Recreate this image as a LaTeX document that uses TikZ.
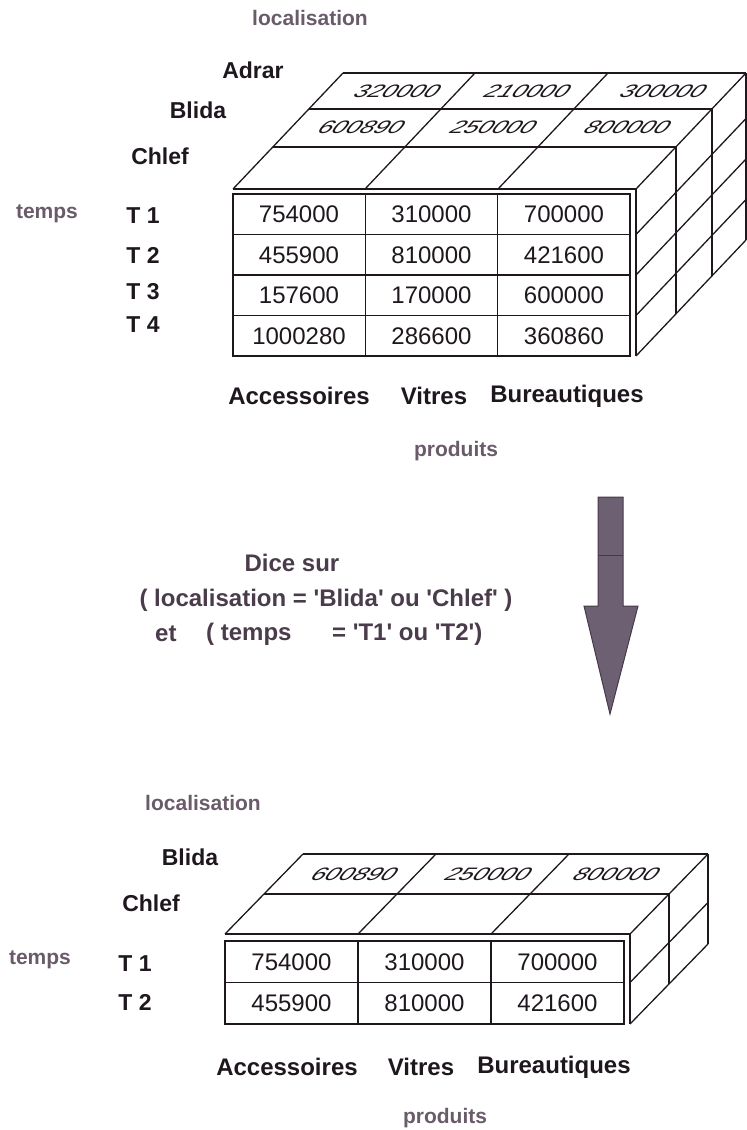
\documentclass[tikz,border=0pt]{standalone}
\usepackage{fontspec}
\setmainfont{Liberation Sans}
\definecolor{axisgray}{HTML}{6A5B6B}
\definecolor{ink}{HTML}{1E181E}
\definecolor{dicecol}{HTML}{4A3C4A}
\definecolor{arrowfill}{HTML}{6E6073}
\definecolor{arrowline}{HTML}{463A49}
\newcommand{\qt}{\textquotesingle}
\tikzset{
  axislbl/.style={font=\fontsize{21}{21}\selectfont\bfseries, text=axisgray, inner sep=0pt},
  memberlbl/.style={font=\fontsize{23}{23}\selectfont\bfseries, text=ink, inner sep=0pt},
  prodlbl/.style={font=\fontsize{24}{24}\selectfont\bfseries, text=ink, inner sep=0pt},
  num/.style={font=\fontsize{24}{24}\selectfont, text=ink, inner sep=0pt},
  topnum/.style={font=\fontsize{25}{25}\selectfont, text=ink, inner sep=0pt, xslant=0.8, yscale=0.72, transform shape},
  cubeline/.style={line width=1.3pt, draw=ink},
  tableframe/.style={line width=2pt, draw=ink},
  dicetxt/.style={font=\fontsize{24}{24}\selectfont\bfseries, text=dicecol, inner sep=0pt},
}
\begin{document}
\begin{tikzpicture}[x=1pt,y=-1pt]
\useasboundingbox (0,0) rectangle (747,1130);

% ================= TOP CUBE =================
% top face
\draw[cubeline] (233,189) -- (636,189);
\draw[cubeline] (273,147) -- (676,147);
\draw[cubeline] (309,109) -- (712,109);
\draw[cubeline] (343,73) -- (746,73);
\draw[cubeline] (233,189) -- (343,73);
\draw[cubeline] (365,189) -- (475,73);
\draw[cubeline] (498,189) -- (608,73);
\draw[cubeline] (636,189) -- (746,73);
% side face
\draw[cubeline] (636,189) -- (636,356);
\draw[cubeline] (676,147) -- (676,314);
\draw[cubeline] (712,109) -- (712,276);
\draw[cubeline] (746,73) -- (746,240);
\foreach \yy in {234.5,275,315.5,356}{
  \draw[cubeline] (636,\yy) -- (746,\yy-116);
}
% front table
\draw[tableframe] (233,194) rectangle (630,356);
\draw[cubeline] (365.3,194) -- (365.3,356);
\draw[cubeline] (497.7,194) -- (497.7,356);
\foreach \yy in {234.5,275,315.5}{
  \draw[cubeline] (233,\yy) -- (630,\yy);
}
\node[num] (a11) at (299,214.5) {754000};
\node[num] (a12) at (431.5,214.5) {310000};
\node[num] (a13) at (564,214.5) {700000};
\node[num] (a21) at (299,255) {455900};
\node[num] (a22) at (431.5,255) {810000};
\node[num] (a23) at (564,255) {421600};
\node[num] (a31) at (299,295.5) {157600};
\node[num] (a32) at (431.5,295.5) {170000};
\node[num] (a33) at (564,295.5) {600000};
\node[num] (a41) at (299,336) {1000280};
\node[num] (a42) at (431.5,336) {286600};
\node[num] (a43) at (564,336) {360860};
% slanted numbers on top face
\begin{scope}[shift={(398,91)}]\node[topnum] (t11) at (0,0) {320000};\end{scope}
\begin{scope}[shift={(528,91)}]\node[topnum] (t12) at (0,0) {210000};\end{scope}
\begin{scope}[shift={(664,91)}]\node[topnum] (t13) at (0,0) {300000};\end{scope}
\begin{scope}[shift={(362,127)}]\node[topnum] (t21) at (0,0) {600890};\end{scope}
\begin{scope}[shift={(494,127)}]\node[topnum] (t22) at (0,0) {250000};\end{scope}
\begin{scope}[shift={(628,127)}]\node[topnum] (t23) at (0,0) {800000};\end{scope}
% labels
\node[axislbl] (loc1) at (310,18) {localisation};
\node[memberlbl] (adrar1) at (253,70) {Adrar};
\node[memberlbl] (blida1) at (198,110) {Blida};
\node[memberlbl] (chlef1) at (160,156) {Chlef};
\node[axislbl] (temps1) at (47,214) {temps};
\node[memberlbl] (ta1) at (143,216) {T 1};
\node[memberlbl] (ta2) at (143,255) {T 2};
\node[memberlbl] (ta3) at (143,292) {T 3};
\node[memberlbl] (ta4) at (143,325) {T 4};
\node[prodlbl] (acc1) at (299,396) {Accessoires};
\node[prodlbl] (vit1) at (434,396) {Vitres};
\node[prodlbl] (bur1) at (567,396) {Bureautiques};
\node[axislbl] (prod1) at (456,451) {produits};

% ================= MIDDLE =================
\node[dicetxt] (dice) at (292,563) {Dice sur};
\node[dicetxt] (cond1) at (326,600) {( localisation = \qt Blida\qt{} ou \qt Chlef\qt{} )};
\node[dicetxt, anchor=west] (cond2a) at (155,634) {et};
\node[dicetxt, anchor=west] (cond2b) at (206,634) {( temps};
\node[dicetxt, anchor=west] (cond2c) at (332,634) {= \qt T1\qt{} ou \qt T2\qt)};
\fill[arrowfill, draw=arrowline, line width=1pt]
  (598,497) -- (623,497) -- (623,606) -- (638,606) -- (610,714) -- (584,606) -- (598,606) -- cycle;
\draw[arrowline, line width=0.7pt] (598,555) -- (623,555);

% ================= BOTTOM CUBE =================
\draw[cubeline] (225,934) -- (630,934);
\draw[cubeline] (264,894) -- (669,894);
\draw[cubeline] (303,854) -- (708,854);
\draw[cubeline] (225,934) -- (303,854);
\draw[cubeline] (358,934) -- (436,854);
\draw[cubeline] (491,934) -- (569,854);
\draw[cubeline] (630,934) -- (708,854);
\draw[cubeline] (630,934) -- (630,1024);
\draw[cubeline] (669,894) -- (669,984);
\draw[cubeline] (708,854) -- (708,944);
\draw[cubeline] (630,982.5) -- (708,902.5);
\draw[cubeline] (630,1024) -- (708,944);
\draw[tableframe] (225,941) rectangle (624,1024);
\draw[cubeline] (358,941) -- (358,1024);
\draw[cubeline] (491,941) -- (491,1024);
\draw[cubeline] (225,982.5) -- (624,982.5);
\node[num] (b11) at (291.5,962) {754000};
\node[num] (b12) at (424.5,962) {310000};
\node[num] (b13) at (557.5,962) {700000};
\node[num] (b21) at (291.5,1003) {455900};
\node[num] (b22) at (424.5,1003) {810000};
\node[num] (b23) at (557.5,1003) {421600};
\begin{scope}[shift={(355,874)}]\node[topnum] (u11) at (0,0) {600890};\end{scope}
\begin{scope}[shift={(489,874)}]\node[topnum] (u12) at (0,0) {250000};\end{scope}
\begin{scope}[shift={(617,874)}]\node[topnum] (u13) at (0,0) {800000};\end{scope}
\node[axislbl] (loc2) at (203,803) {localisation};
\node[memberlbl] (blida2) at (190,857) {Blida};
\node[memberlbl] (chlef2) at (151,903) {Chlef};
\node[axislbl] (temps2) at (40,960) {temps};
\node[memberlbl] (tb1) at (135,964) {T 1};
\node[memberlbl] (tb2) at (135,1002) {T 2};
\node[prodlbl] (acc2) at (287,1067) {Accessoires};
\node[prodlbl] (vit2) at (421,1067) {Vitres};
\node[prodlbl] (bur2) at (554,1067) {Bureautiques};
\node[axislbl] (prod2) at (445,1118) {produits};
\end{tikzpicture}
\end{document}
